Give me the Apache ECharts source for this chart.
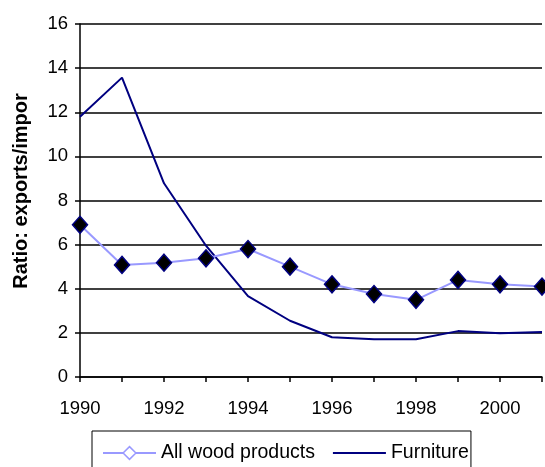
<!DOCTYPE html>
<html>
<head>
<meta charset="utf-8">
<script src="https://cdn.jsdelivr.net/npm/echarts@6/dist/echarts.min.js"></script>
<style>
  html, body { margin: 0; padding: 0; background: #fff; }
  #chart { width: 545px; height: 467px; }
</style>
</head>
<body>
<div id="chart"></div>
<script>
// Export/import ratio by year
const years = [1990, 1991, 1992, 1993, 1994, 1995, 1996, 1997, 1998, 1999, 2000, 2001];
const allWood = [6.9, 5.08, 5.18, 5.38, 5.8, 5.0, 4.2, 3.76, 3.5, 4.4, 4.2, 4.1];
const furniture = [11.8, 13.57, 8.78, 5.95, 3.67, 2.55, 1.8, 1.71, 1.71, 2.08, 1.98, 2.04];
const yTicks = [0, 2, 4, 6, 8, 10, 12, 14, 16];
const labeledYears = [1990, 1992, 1994, 1996, 1998, 2000];
const seriesNames = ['All wood products', 'Furniture'];
const yTitle = 'Ratio: exports/impor';

const font = '"Liberation Sans", Arial, sans-serif';

const chart = echarts.init(document.getElementById('chart'), null, { renderer: 'canvas' });

chart.setOption({
  animation: false,
  backgroundColor: '#ffffff',
  grid: { left: 80, top: 24, right: 1, bottom: 90, containLabel: false },
  xAxis: {
    type: 'value',
    min: years[0],
    max: years[years.length - 1],
    interval: 1,
    axisLine: { show: true, lineStyle: { color: '#000', width: 1.5 } },
    axisTick: { show: true, inside: false, length: 5, lineStyle: { color: '#000', width: 1.5 } },
    splitLine: { show: false },
    axisLabel: {
      color: '#000',
      fontFamily: font,
      fontSize: 18.5,
      margin: 22,
      showMaxLabel: true,
      formatter: v => labeledYears.indexOf(v) >= 0 ? String(v) : ''
    }
  },
  yAxis: {
    type: 'value',
    min: yTicks[0],
    max: yTicks[yTicks.length - 1],
    interval: yTicks[1] - yTicks[0],
    axisLine: { show: true, lineStyle: { color: '#000', width: 1.5 } },
    axisTick: { show: true, inside: false, length: 5, lineStyle: { color: '#000', width: 1.5 } },
    splitLine: { show: true, lineStyle: { color: '#000', width: 1.5 } },
    axisLabel: {
      color: '#000',
      fontFamily: font,
      fontSize: 18.5,
      margin: 12
    }
  },
  legend: {
    left: 92,
    top: 431,
    orient: 'horizontal',
    borderColor: '#000',
    borderWidth: 1,
    borderRadius: 0,
    padding: [12, 2, 12, 10],
    itemWidth: 53,
    itemHeight: 16,
    itemGap: 17,
    textStyle: { color: '#000', fontFamily: font, fontSize: 19.5 },
    data: [
      {
        name: seriesNames[0],
        itemStyle: { color: '#ffffff', borderColor: '#9999ff', borderWidth: 1.5 },
        lineStyle: { color: '#9999ff', width: 2 }
      },
      {
        name: seriesNames[1],
        itemStyle: { color: 'rgba(0,0,0,0)', borderColor: 'rgba(0,0,0,0)', borderWidth: 0 },
        lineStyle: { color: '#000080', width: 2 }
      }
    ]
  },
  graphic: [
    {
      type: 'text',
      x: 21,
      y: 191,
      rotation: Math.PI / 2,
      style: {
        text: yTitle,
        fill: '#000',
        font: 'bold 20px ' + font,
        align: 'center',
        verticalAlign: 'middle'
      }
    }
  ],
  series: [
    {
      name: seriesNames[0],
      type: 'line',
      data: years.map((y, i) => [y, allWood[i]]),
      symbol: 'diamond',
      symbolSize: [15, 17],
      lineStyle: { color: '#9999ff', width: 2 },
      itemStyle: { color: '#000000', borderColor: '#000080', borderWidth: 1.5 },
      z: 3
    },
    {
      name: seriesNames[1],
      type: 'line',
      data: years.map((y, i) => [y, furniture[i]]),
      symbol: 'none',
      lineStyle: { color: '#000080', width: 2 },
      itemStyle: { color: '#000080' },
      z: 2
    }
  ]
});
</script>
</body>
</html>
